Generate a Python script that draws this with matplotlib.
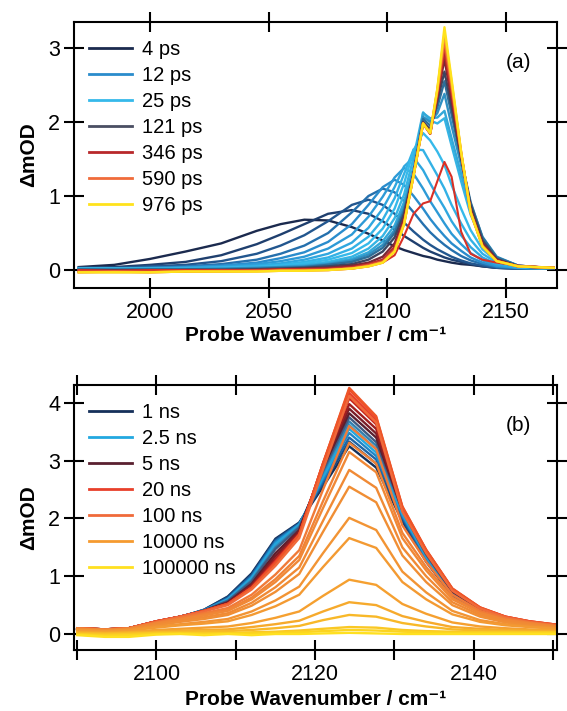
import matplotlib
matplotlib.use("Agg")
import matplotlib.pyplot as plt
from matplotlib.lines import Line2D

plt.rcParams['font.family'] = ['Liberation Sans', 'DejaVu Sans']

# ==========================================
# DATA - panel (a), picosecond spectra
# ==========================================
wn_a = [1970, 1985, 2000, 2015, 2030, 2045, 2055, 2065, 2075, 2085, 2092, 2098, 2103,
        2107, 2111, 2115, 2118, 2121, 2124, 2127, 2131, 2135, 2140, 2146, 2155, 2170]

spec_a = [
    # 4 ps
    [0.04, 0.07, 0.15, 0.25, 0.36, 0.53, 0.62, 0.68, 0.67, 0.58, 0.49, 0.40, 0.32,
     0.27, 0.23, 0.19, 0.17, 0.14, 0.12, 0.10, 0.08, 0.07, 0.05, 0.03, 0.02, 0.02],
    # 6 ps
    [0.03, 0.04, 0.07, 0.11, 0.20, 0.35, 0.48, 0.62, 0.76, 0.81, 0.76, 0.66, 0.55,
     0.46, 0.38, 0.30, 0.25, 0.21, 0.17, 0.14, 0.11, 0.08, 0.05, 0.03, 0.02, 0.02],
    # 8 ps
    [0.03, 0.03, 0.05, 0.07, 0.12, 0.22, 0.33, 0.47, 0.66, 0.88, 0.95, 0.88, 0.76,
     0.64, 0.52, 0.41, 0.34, 0.28, 0.23, 0.18, 0.13, 0.09, 0.06, 0.03, 0.02, 0.02],
    # 10 ps
    [0.02, 0.02, 0.03, 0.05, 0.08, 0.14, 0.22, 0.33, 0.50, 0.78, 1.00, 1.10, 1.05,
     0.93, 0.78, 0.62, 0.51, 0.42, 0.34, 0.27, 0.19, 0.13, 0.08, 0.04, 0.02, 0.02],
    # 12 ps
    [0.02, 0.02, 0.03, 0.04, 0.06, 0.10, 0.16, 0.24, 0.38, 0.62, 0.88, 1.12, 1.22,
     1.15, 1.00, 0.83, 0.69, 0.57, 0.46, 0.36, 0.26, 0.17, 0.10, 0.05, 0.03, 0.02],
    # 15 ps
    [0.02, 0.02, 0.02, 0.03, 0.05, 0.08, 0.12, 0.18, 0.29, 0.48, 0.72, 0.99, 1.25,
     1.38, 1.30, 1.10, 0.93, 0.78, 0.63, 0.49, 0.35, 0.23, 0.13, 0.06, 0.03, 0.02],
    # 18 ps
    [0.02, 0.02, 0.02, 0.03, 0.04, 0.06, 0.09, 0.14, 0.22, 0.37, 0.57, 0.83, 1.12,
     1.40, 1.52, 1.35, 1.17, 1.00, 0.84, 0.66, 0.47, 0.31, 0.17, 0.08, 0.03, 0.02],
    # 21 ps
    [0.02, 0.02, 0.02, 0.02, 0.03, 0.05, 0.07, 0.11, 0.17, 0.29, 0.45, 0.68, 0.97,
     1.30, 1.63, 1.62, 1.45, 1.28, 1.10, 0.88, 0.63, 0.41, 0.22, 0.10, 0.04, 0.02],
    # 25 ps
    [0.02, 0.02, 0.02, 0.02, 0.03, 0.04, 0.06, 0.09, 0.14, 0.23, 0.36, 0.56, 0.83,
     1.17, 1.62, 1.85, 1.75, 1.60, 1.42, 1.15, 0.83, 0.54, 0.28, 0.12, 0.05, 0.02],
    # 30 ps
    [0.02, 0.02, 0.02, 0.02, 0.02, 0.03, 0.05, 0.07, 0.11, 0.18, 0.29, 0.46, 0.70,
     1.02, 1.52, 2.13, 2.02, 1.98, 2.05, 1.68, 1.20, 0.75, 0.37, 0.15, 0.05, 0.02],
    # 40 ps
    [0.02, 0.02, 0.02, 0.02, 0.02, 0.03, 0.04, 0.06, 0.09, 0.15, 0.24, 0.39, 0.60,
     0.92, 1.40, 2.12, 2.05, 2.06, 2.15, 1.78, 1.30, 0.82, 0.42, 0.17, 0.06, 0.02],
    # 60 ps
    [0.01, 0.01, 0.01, 0.01, 0.02, 0.03, 0.04, 0.05, 0.08, 0.13, 0.21, 0.34, 0.54,
     0.85, 1.32, 2.07, 2.00, 2.12, 2.38, 1.95, 1.42, 0.90, 0.45, 0.18, 0.06, 0.02],
    # 90 ps
    [0.01, 0.00, 0.01, 0.01, 0.01, 0.02, 0.03, 0.04, 0.07, 0.11, 0.18, 0.30, 0.50,
     0.80, 1.30, 2.04, 1.95, 2.20, 2.55, 2.10, 1.50, 0.92, 0.44, 0.17, 0.06, 0.02],
    # 121 ps
    [0.00, 0.00, 0.00, 0.00, 0.00, 0.01, 0.02, 0.03, 0.05, 0.08, 0.14, 0.25, 0.44,
     0.76, 1.30, 2.00, 1.90, 2.28, 2.68, 2.20, 1.52, 0.88, 0.40, 0.15, 0.05, 0.02],
    # 200 ps
    [-0.01, -0.01, -0.01, 0.00, 0.00, 0.00, 0.01, 0.02, 0.03, 0.06, 0.10, 0.18, 0.36,
     0.70, 1.30, 1.99, 1.86, 2.33, 2.85, 2.30, 1.55, 0.82, 0.36, 0.14, 0.05, 0.03],
    # 346 ps
    [-0.02, -0.02, -0.02, -0.01, -0.01, 0.00, 0.00, 0.01, 0.02, 0.04, 0.08, 0.14, 0.31,
     0.66, 1.29, 1.98, 1.84, 2.36, 2.95, 2.38, 1.57, 0.80, 0.34, 0.13, 0.05, 0.03],
    # 450 ps
    [-0.02, -0.02, -0.02, -0.02, -0.01, -0.01, 0.00, 0.00, 0.01, 0.03, 0.07, 0.12, 0.28,
     0.64, 1.28, 1.98, 1.84, 2.40, 3.05, 2.45, 1.58, 0.79, 0.33, 0.12, 0.05, 0.03],
    # 590 ps
    [-0.03, -0.02, -0.03, -0.02, -0.02, -0.01, -0.01, 0.00, 0.00, 0.02, 0.06, 0.11, 0.26,
     0.63, 1.28, 1.98, 1.85, 2.42, 3.12, 2.50, 1.59, 0.78, 0.32, 0.12, 0.05, 0.03],
    # 780 ps
    [-0.03, -0.03, -0.03, -0.02, -0.02, -0.02, -0.01, -0.01, 0.00, 0.02, 0.05, 0.10, 0.25,
     0.62, 1.28, 1.98, 1.85, 2.44, 3.20, 2.54, 1.60, 0.78, 0.32, 0.12, 0.05, 0.03],
    # 976 ps
    [-0.03, -0.03, -0.03, -0.02, -0.02, -0.02, -0.01, -0.01, 0.00, 0.02, 0.05, 0.10, 0.25,
     0.62, 1.28, 1.98, 1.85, 2.45, 3.28, 2.58, 1.60, 0.78, 0.32, 0.12, 0.05, 0.03],
]
colors_a = ['#1b2a4e', '#1f3f6e', '#22568e', '#2570ad', '#2a8ccc', '#2d9ad6', '#30a7df',
            '#33b1e5', '#36b9ea', '#35b4e4', '#33a8d8', '#2f90c2', '#2d6f99', '#3c4660',
            '#7a2a35', '#b8282a', '#d8482f', '#f06b3a', '#f8a52a', '#ffe21c']

# the single low red trace
spec_a_red = [0.00, -0.01, 0.00, 0.00, 0.00, 0.00, 0.01, 0.01, 0.01, 0.02, 0.05, 0.10, 0.20,
              0.46, 0.76, 0.90, 0.93, 1.20, 1.46, 1.26, 0.52, 0.22, 0.14, 0.10, 0.06, 0.03]

legend_a = ['4 ps', '12 ps', '25 ps', '121 ps', '346 ps', '590 ps', '976 ps']
legend_a_colors = ['#1b2a4e', '#2a8ccc', '#36b9ea', '#4a4e62', '#b8282a', '#f06b3a', '#ffe21c']

# ==========================================
# DATA - panel (b), nanosecond spectra
# ==========================================
wn_b = [2090, 2093.5, 2096.5, 2100, 2103, 2106, 2109, 2112, 2115, 2118, 2121, 2124.3,
        2127.7, 2131, 2134, 2137.3, 2140.8, 2144, 2147, 2150.5]

spec_b = [
    # 1 ns
    [0.08, 0.06, 0.09, 0.20, 0.29, 0.42, 0.65, 1.05, 1.65, 1.93, 2.55, 3.25, 2.88, 1.95, 1.25, 0.66, 0.38, 0.24, 0.16, 0.11],
    # 1.25 ns
    [0.08, 0.06, 0.09, 0.20, 0.29, 0.42, 0.64, 1.03, 1.63, 1.92, 2.60, 3.33, 2.95, 1.98, 1.27, 0.67, 0.39, 0.24, 0.17, 0.11],
    # 1.5 ns
    [0.09, 0.07, 0.09, 0.20, 0.29, 0.41, 0.62, 1.01, 1.61, 1.91, 2.64, 3.40, 3.02, 2.02, 1.30, 0.68, 0.40, 0.25, 0.17, 0.12],
    # 2 ns
    [0.09, 0.07, 0.09, 0.20, 0.29, 0.41, 0.61, 0.99, 1.59, 1.90, 2.68, 3.48, 3.08, 2.05, 1.32, 0.69, 0.40, 0.25, 0.17, 0.12],
    # 2.5 ns
    [0.09, 0.07, 0.10, 0.21, 0.30, 0.41, 0.60, 0.97, 1.56, 1.89, 2.72, 3.55, 3.14, 2.08, 1.34, 0.70, 0.41, 0.26, 0.18, 0.13],
    # 3 ns
    [0.09, 0.07, 0.10, 0.21, 0.30, 0.41, 0.59, 0.95, 1.53, 1.88, 2.76, 3.62, 3.20, 2.11, 1.35, 0.71, 0.41, 0.26, 0.18, 0.13],
    # 3.5 ns
    [0.10, 0.08, 0.10, 0.21, 0.30, 0.41, 0.58, 0.93, 1.50, 1.86, 2.80, 3.68, 3.26, 2.13, 1.37, 0.72, 0.42, 0.27, 0.19, 0.13],
    # 4 ns
    [0.10, 0.08, 0.10, 0.21, 0.30, 0.41, 0.57, 0.91, 1.47, 1.84, 2.83, 3.75, 3.32, 2.15, 1.38, 0.73, 0.42, 0.27, 0.19, 0.13],
    # 5 ns
    [0.10, 0.08, 0.10, 0.21, 0.30, 0.40, 0.55, 0.87, 1.40, 1.80, 2.88, 3.82, 3.40, 2.15, 1.40, 0.74, 0.43, 0.28, 0.20, 0.14],
    # 7 ns
    [0.10, 0.08, 0.10, 0.22, 0.30, 0.40, 0.54, 0.85, 1.35, 1.78, 2.90, 3.90, 3.47, 2.15, 1.41, 0.75, 0.44, 0.28, 0.20, 0.14],
    # 10 ns
    [0.10, 0.08, 0.10, 0.22, 0.30, 0.40, 0.53, 0.83, 1.30, 1.75, 2.92, 3.98, 3.55, 2.16, 1.42, 0.76, 0.44, 0.29, 0.21, 0.15],
    # 15 ns
    [0.10, 0.08, 0.10, 0.22, 0.30, 0.40, 0.52, 0.81, 1.27, 1.73, 2.94, 4.08, 3.63, 2.17, 1.44, 0.77, 0.45, 0.29, 0.21, 0.15],
    # 20 ns
    [0.10, 0.08, 0.10, 0.22, 0.30, 0.40, 0.52, 0.80, 1.25, 1.72, 2.95, 4.17, 3.70, 2.18, 1.45, 0.78, 0.45, 0.30, 0.22, 0.16],
    # 35 ns
    [0.10, 0.08, 0.10, 0.22, 0.30, 0.40, 0.52, 0.80, 1.23, 1.72, 2.96, 4.23, 3.75, 2.20, 1.45, 0.78, 0.46, 0.30, 0.22, 0.16],
    # 50 ns
    [0.10, 0.08, 0.10, 0.22, 0.30, 0.40, 0.52, 0.80, 1.22, 1.72, 2.95, 4.26, 3.77, 2.21, 1.46, 0.79, 0.46, 0.30, 0.22, 0.16],
    # 100 ns
    [0.10, 0.08, 0.10, 0.21, 0.30, 0.39, 0.50, 0.77, 1.18, 1.66, 2.85, 4.12, 3.66, 2.12, 1.40, 0.75, 0.44, 0.29, 0.21, 0.15],
    # 200 ns
    [0.10, 0.08, 0.10, 0.20, 0.28, 0.36, 0.45, 0.68, 1.03, 1.45, 2.50, 3.60, 3.20, 1.88, 1.25, 0.68, 0.40, 0.27, 0.20, 0.14],
    # 500 ns
    [0.09, 0.07, 0.09, 0.19, 0.26, 0.34, 0.42, 0.63, 0.95, 1.35, 2.30, 3.31, 2.95, 1.75, 1.16, 0.63, 0.37, 0.25, 0.19, 0.13],
    # 700 ns
    [0.09, 0.07, 0.09, 0.18, 0.25, 0.32, 0.40, 0.60, 0.90, 1.28, 2.18, 3.15, 2.80, 1.66, 1.10, 0.60, 0.36, 0.24, 0.18, 0.13],
    # 1000 ns
    [0.08, 0.06, 0.08, 0.16, 0.23, 0.29, 0.36, 0.54, 0.81, 1.15, 1.96, 2.84, 2.53, 1.50, 1.00, 0.55, 0.33, 0.22, 0.17, 0.12],
    # 1500 ns
    [0.08, 0.06, 0.08, 0.15, 0.21, 0.26, 0.33, 0.49, 0.73, 1.04, 1.77, 2.55, 2.28, 1.36, 0.90, 0.50, 0.30, 0.20, 0.15, 0.11],
    # 2500 ns
    [0.07, 0.05, 0.07, 0.13, 0.17, 0.21, 0.26, 0.39, 0.58, 0.82, 1.40, 2.01, 1.80, 1.08, 0.72, 0.40, 0.24, 0.17, 0.13, 0.10],
    # 4000 ns
    [0.06, 0.05, 0.06, 0.11, 0.15, 0.18, 0.22, 0.33, 0.48, 0.68, 1.16, 1.66, 1.49, 0.90, 0.60, 0.34, 0.21, 0.15, 0.12, 0.09],
    # 10000 ns
    [0.04, 0.03, 0.04, 0.07, 0.09, 0.11, 0.13, 0.19, 0.28, 0.39, 0.66, 0.94, 0.85, 0.52, 0.35, 0.20, 0.13, 0.10, 0.08, 0.07],
    # 20000 ns
    [0.03, 0.02, 0.03, 0.05, 0.06, 0.07, 0.08, 0.12, 0.17, 0.23, 0.39, 0.55, 0.50, 0.31, 0.21, 0.12, 0.09, 0.07, 0.06, 0.05],
    # 30000 ns
    [0.02, 0.01, 0.02, 0.03, 0.04, 0.05, 0.05, 0.07, 0.10, 0.14, 0.24, 0.33, 0.30, 0.19, 0.13, 0.08, 0.06, 0.05, 0.04, 0.04],
    # 50000 ns
    [0.00, -0.01, 0.00, 0.02, 0.02, 0.02, 0.02, 0.03, 0.04, 0.06, 0.09, 0.12, 0.11, 0.07, 0.05, 0.04, 0.03, 0.03, 0.03, 0.03],
    # 70000 ns
    [-0.01, -0.03, -0.02, 0.00, 0.01, 0.00, 0.01, 0.01, 0.02, 0.03, 0.05, 0.07, 0.06, 0.04, 0.03, 0.02, 0.02, 0.02, 0.02, 0.02],
    # 100000 ns
    [-0.02, -0.05, -0.05, -0.01, 0.00, -0.02, 0.00, -0.02, 0.00, 0.00, 0.01, 0.02, 0.01, 0.00, 0.00, 0.00, 0.00, 0.00, 0.00, 0.00],
]
colors_b = ['#15305a', '#1a4a80', '#1e66a6', '#2186c6', '#22a8e0', '#28a2d6', '#3380b0', '#405a80',
            '#5a2030', '#7a1e28', '#a01e20', '#c8281f', '#e8402a', '#ec4a28', '#ee5528', '#f06a3a',
            '#f07a38', '#f08236', '#f08836', '#f08a35', '#f08e34', '#f29434', '#f39a32', '#f5a030',
            '#f6aa2c', '#f8b828', '#fac824', '#fcd420', '#ffe020']

legend_b = ['1 ns', '2.5 ns', '5 ns', '20 ns', '100 ns', '10000 ns', '100000 ns']
legend_b_colors = ['#15305a', '#22a8e0', '#5a2030', '#e8402a', '#f06a3a', '#f59a30', '#ffe020']

# ==========================================
# FIGURE
# ==========================================
fig = plt.figure(figsize=(5.67, 7.11), dpi=100)
ax1 = fig.add_axes([0.1305, 0.5949, 0.8519, 0.3741])
ax2 = fig.add_axes([0.1305, 0.0858, 0.8519, 0.3727])

for spec, c in zip(spec_a, colors_a):
    ax1.plot(wn_a, spec, color=c, lw=1.7)
    if c == '#b8282a':
        ax1.plot(wn_a, spec_a_red, color='#d93025', lw=1.5)

for spec, c in zip(spec_b, colors_b):
    ax2.plot(wn_b, spec, color=c, lw=1.7)


def style(ax, labels, colors, tag, xlab_y):
    for s in ax.spines.values():
        s.set_linewidth(1.5)
    ax.tick_params(direction='inout', length=14, width=1.5, labelsize=15.5,
                   top=True, right=True, pad=3)
    ax.set_ylabel('ΔmOD', fontsize=15, fontweight='bold')
    ax.yaxis.set_label_coords(-0.075, 0.5)
    ax.set_xlabel('Probe Wavenumber / cm⁻¹', fontsize=15, fontweight='bold')
    ax.xaxis.set_label_coords(0.5, xlab_y)
    handles = [Line2D([0], [0], color=c, lw=2) for c in colors]
    ax.legend(handles, labels, loc='upper left', bbox_to_anchor=(0.0, 0.99), frameon=False,
              fontsize=14.5, handlelength=2.15, handletextpad=0.5, labelspacing=0.35,
              borderaxespad=0.35)
    ax.text(0.921, 0.848, tag, transform=ax.transAxes, fontsize=15, ha='center', va='center')


ax1.set_xlim(1968, 2171.4)
ax1.set_ylim(-0.243, 3.35)
ax1.set_xticks([2000, 2050, 2100, 2150])
ax1.set_yticks([0, 1, 2, 3])
style(ax1, legend_a, legend_a_colors, '(a)', -0.142)

ax2.set_xlim(2089.6, 2150.5)
ax2.set_ylim(-0.277, 4.31)
ax2.set_xticks(range(2090, 2151, 10))
ax2.set_xticklabels(['' if t % 20 else str(t) for t in range(2090, 2151, 10)])
ax2.set_yticks([0, 1, 2, 3, 4])
ax2.tick_params(axis='x', pad=4.5)
style(ax2, legend_b, legend_b_colors, '(b)', -0.15)

fig.savefig('out.png', dpi=100)
